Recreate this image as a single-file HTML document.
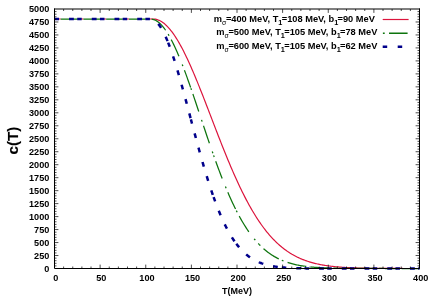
<!DOCTYPE html>
<html><head><meta charset="utf-8"><title>c(T)</title>
<style>
html,body{margin:0;padding:0;background:#fff;}
body{width:436px;height:305px;overflow:hidden;font-family:"Liberation Sans",sans-serif;}
svg{display:block;}
text{font-family:"Liberation Sans",sans-serif;font-weight:bold;fill:#000;}
</style></head><body>
<svg width="436" height="305" viewBox="0 0 436 305">
<defs><filter id="g" filterUnits="userSpaceOnUse" x="0" y="0" width="436" height="305"><feOffset dx="0" dy="0"/></filter></defs>
<rect width="436" height="305" fill="#fff"/>
<g fill="none" stroke-linejoin="round">
<path d="M56.30 19.00H60.70M79.03 19.00H83.43M101.76 19.00H106.16M124.49 19.00H128.89M147.22 19.00L153.05 19.00L153.60 19.01L154.51 19.08L155.42 19.21L156.33 19.40L157.24 19.65L158.15 19.96L159.06 20.33L159.97 20.77L160.88 21.26L161.79 21.81L162.70 22.42L163.61 23.09L164.52 23.82L165.43 24.61L166.34 25.45L167.26 26.36L168.17 27.31L169.08 28.32L169.99 29.39L170.90 30.51L171.81 31.68L172.72 32.91L173.63 34.19L174.54 35.51L175.45 36.89L176.36 38.32L177.27 39.79L178.18 41.31L179.09 42.87L180.00 44.48L180.91 46.13L181.83 47.83L182.74 49.56L183.65 51.34L184.56 53.15L185.47 55.00L186.38 56.89L187.29 58.81L188.20 60.76L189.11 62.75L190.02 64.77L190.93 66.82L191.84 68.90L192.75 71.00L193.66 73.13L194.57 75.29L195.48 77.46L196.40 79.66L197.31 81.88L198.22 84.12L199.13 86.38L200.04 88.66L200.95 90.94L201.86 93.25L202.77 95.56L203.68 97.89L204.59 100.23L205.50 102.57L206.41 104.93L207.32 107.29L208.23 109.65L209.14 112.02L210.05 114.39L210.97 116.77L211.88 119.14L212.79 121.51L213.70 123.88L214.61 126.25L215.52 128.61L216.43 130.97L217.34 133.32L218.25 135.66L219.16 137.99L220.07 140.32L220.98 142.63L221.89 144.94L222.80 147.23L223.71 149.51L224.63 151.77L225.54 154.02L226.45 156.25L227.36 158.47L228.27 160.67L229.18 162.85L230.09 165.01L231.00 167.15L231.91 169.28L232.82 171.38L233.73 173.46L234.64 175.52L235.55 177.56L236.46 179.57L237.37 181.56L238.28 183.53L239.20 185.47L240.11 187.39L241.02 189.29L241.93 191.16L242.84 193.00L243.75 194.82L244.66 196.61L245.57 198.37L246.48 200.11L247.39 201.82L248.30 203.51L249.21 205.17L250.12 206.80L251.03 208.40L251.94 209.98L252.85 211.53L253.77 213.05L254.68 214.54L255.59 216.01L256.50 217.45L257.41 218.86L258.32 220.25L259.23 221.61L260.14 222.94L261.05 224.24L261.96 225.52L262.87 226.77L263.78 227.99L264.69 229.19L265.60 230.36L266.51 231.51L267.42 232.63L268.34 233.73L269.25 234.80L270.16 235.84L271.07 236.86L271.98 237.86L272.89 238.83L273.80 239.78L274.71 240.70L275.62 241.60L276.53 242.48L277.44 243.34L278.35 244.17L279.26 244.99L280.17 245.78L281.08 246.55L281.99 247.30L282.91 248.02L283.82 248.73L284.73 249.42L285.64 250.09L286.55 250.74L287.46 251.37L288.37 251.98L289.28 252.58L290.19 253.15L291.10 253.71L292.01 254.26L292.92 254.78L293.83 255.29L294.74 255.79L295.65 256.27L296.56 256.73L297.48 257.18L298.39 257.61L299.30 258.03L300.21 258.44L301.12 258.83L302.03 259.21L302.94 259.58L303.85 259.93L304.76 260.28L305.67 260.61L306.58 260.93L307.49 261.24L308.40 261.53L309.31 261.82L310.22 262.10L311.13 262.36L312.05 262.62L312.96 262.87L313.87 263.11L314.78 263.34L315.69 263.56L316.60 263.77L317.51 263.98L318.42 264.17L319.33 264.36L320.24 264.55L321.15 264.72L322.06 264.89L322.97 265.05L323.88 265.21L324.79 265.35L325.71 265.50L326.62 265.63L327.53 265.77L328.44 265.89L329.35 266.01L330.26 266.13L331.17 266.24L332.08 266.35L332.99 266.45L333.90 266.55L334.81 266.64L335.72 266.73L336.63 266.81L337.54 266.90L338.45 266.97L339.36 267.05L340.28 267.12L341.19 267.19L342.10 267.25L343.01 267.32L343.92 267.37L344.83 267.43L345.74 267.49L346.65 267.54L347.56 267.59L348.47 267.63L349.38 267.68L350.29 267.72L351.20 267.76L352.11 267.80L353.02 267.84L353.93 267.87L354.85 267.90L355.76 267.94L356.67 267.97L357.58 267.99L358.49 268.02L359.40 268.05L360.31 268.07L361.22 268.10L362.13 268.12L363.04 268.14L363.95 268.16L364.86 268.18L365.77 268.20L366.68 268.21L367.59 268.23L368.50 268.24L369.42 268.26L370.33 268.27L371.24 268.29L372.15 268.30L373.06 268.31L373.97 268.32L374.88 268.33L375.79 268.34L376.70 268.35L377.61 268.36L378.52 268.37L379.43 268.37L380.34 268.38L381.25 268.39L382.16 268.40L383.07 268.40L383.99 268.41L384.90 268.41L385.81 268.42L386.72 268.42L387.63 268.43L388.54 268.43L389.45 268.44L390.36 268.44L391.27 268.44L392.18 268.45L393.09 268.45L394.00 268.45L394.91 268.46L395.82 268.46L396.73 268.46L397.64 268.46L398.56 268.47L399.47 268.47L400.38 268.47L401.29 268.47L402.20 268.47L403.11 268.48L404.02 268.48L404.93 268.48L405.84 268.48L406.75 268.48L407.66 268.48L408.57 268.48L409.48 268.49L410.39 268.49L411.30 268.49L412.21 268.49L413.13 268.49L414.04 268.49L414.95 268.49L415.86 268.49L416.77 268.49L417.68 268.49L418.59 268.49L419.50 268.49" stroke="#dc143c" stroke-width="1.2"/>
<g stroke="#0d740d" stroke-width="1.25" stroke-dasharray="1.8 4.4 18.4 8.8">
<path d="M54.50 19.00L77.23 19.00"/>
<path d="M77.23 19.00L99.96 19.00"/>
<path d="M99.96 19.00L122.69 19.00"/>
<path d="M122.69 19.00L145.42 19.00"/>
<path d="M145.42 19.00L150.31 19.00L150.88 19.02L151.79 19.11L152.70 19.28L153.60 19.53L154.51 19.87L155.42 20.28L156.33 20.78L157.24 21.35L158.15 22.01L159.06 22.74L159.97 23.55L160.88 24.44L161.79 25.40L162.70 26.44L163.61 27.55L164.52 28.74L165.42 30.00L166.33 31.33L167.24 32.73L168.15 34.19"/>
<path d="M168.15 34.19L169.06 35.73L169.97 37.33L170.88 38.99L171.79 40.71L172.70 42.50L173.61 44.35L174.52 46.25L175.43 48.21L176.33 50.22L177.24 52.28L178.15 54.40L179.06 56.56L179.97 58.77L180.88 61.03L181.79 63.32L182.70 65.66L183.61 68.04L184.52 70.45L185.43 72.90L186.34 75.38L187.25 77.90L188.15 80.44L189.06 83.01L189.97 85.60L190.88 88.21"/>
<path d="M190.88 88.21L191.79 90.85L192.70 93.50L193.61 96.17L194.52 98.86L195.43 101.56L196.34 104.26L197.25 106.98L198.16 109.71L199.07 112.44L199.97 115.17L200.88 117.90L201.79 120.63L202.70 123.37L203.61 126.09L204.52 128.81L205.43 131.53L206.34 134.23L207.25 136.93L208.16 139.61L209.07 142.28L209.98 144.93L210.88 147.57L211.79 150.19L212.70 152.79L213.61 155.37"/>
<path d="M213.61 155.37L214.52 157.93L215.43 160.47L216.34 162.98L217.25 165.47L218.16 167.93L219.07 170.37L219.98 172.78L220.89 175.16L221.80 177.51L222.70 179.83L223.61 182.12L224.52 184.37L225.43 186.60L226.34 188.79L227.25 190.95L228.16 193.07L229.07 195.16L229.98 197.22L230.89 199.24L231.80 201.23L232.71 203.18L233.62 205.09L234.52 206.97L235.43 208.81L236.34 210.62"/>
<path d="M236.34 210.62L237.25 212.38L238.16 214.12L239.07 215.81L239.98 217.47L240.89 219.10L241.80 220.69L242.71 222.24L243.62 223.76L244.53 225.24L245.44 226.68L246.34 228.09L247.25 229.47L248.16 230.81L249.07 232.12L249.98 233.39L250.89 234.63L251.80 235.83L252.71 237.01L253.62 238.15L254.53 239.26L255.44 240.34L256.35 241.38L257.25 242.40L258.16 243.39L259.07 244.35"/>
<path d="M259.07 244.35L259.98 245.27L260.89 246.18L261.80 247.05L262.71 247.89L263.62 248.71L264.53 249.50L265.44 250.27L266.35 251.01L267.26 251.73L268.17 252.42L269.07 253.09L269.98 253.73L270.89 254.36L271.80 254.96L272.71 255.54L273.62 256.10L274.53 256.64L275.44 257.15L276.35 257.65L277.26 258.14L278.17 258.60L279.08 259.04L279.99 259.47L280.89 259.89L281.80 260.28"/>
<path d="M281.80 260.28L282.71 260.66L283.62 261.03L284.53 261.38L285.44 261.71L286.35 262.04L287.26 262.34L288.17 262.64L289.08 262.92L289.99 263.20L290.90 263.46L291.81 263.71L292.71 263.94L293.62 264.17L294.53 264.39L295.44 264.60L296.35 264.80L297.26 264.99L298.17 265.17L299.08 265.34L299.99 265.50L300.90 265.66L301.81 265.81L302.72 265.95L303.62 266.09L304.53 266.22"/>
<path d="M304.53 266.22L305.44 266.34L306.35 266.46L307.26 266.57L308.17 266.68L309.08 266.78L309.99 266.87L310.90 266.96L311.81 267.05L312.72 267.13L313.63 267.21L314.54 267.28L315.44 267.35L316.35 267.42L317.26 267.48L318.17 267.54L319.08 267.60L319.99 267.65L320.90 267.70L321.81 267.75L322.72 267.79L323.63 267.84L324.54 267.88L325.45 267.91L326.36 267.95L327.26 267.98"/>
<path d="M327.26 267.98L328.17 268.02L329.08 268.05L329.99 268.07L330.90 268.10L331.81 268.13L332.72 268.15L333.63 268.17L334.54 268.19L335.45 268.21L336.36 268.23L337.27 268.25L338.18 268.26L339.08 268.28L339.99 268.29L340.90 268.31L341.81 268.32L342.72 268.33L343.63 268.34L344.54 268.35L345.45 268.36L346.36 268.37L347.27 268.38L348.18 268.39L349.09 268.40L349.99 268.40"/>
<path d="M349.99 268.40L350.90 268.41L351.81 268.42L352.72 268.42L353.63 268.43L354.54 268.43L355.45 268.44L356.36 268.44L357.27 268.45L358.18 268.45L359.09 268.45L360.00 268.46L360.91 268.46L361.81 268.46L362.72 268.47L363.63 268.47L364.54 268.47L365.45 268.47L366.36 268.48L367.27 268.48L368.18 268.48L369.09 268.48L370.00 268.48L370.91 268.48L371.82 268.48L372.73 268.49"/>
<path d="M372.73 268.49L373.63 268.49L374.54 268.49L375.45 268.49L376.36 268.49L377.27 268.49L378.18 268.49L379.09 268.49L380.00 268.49L380.91 268.49L381.82 268.49L382.73 268.49L383.64 268.49L384.55 268.50L385.45 268.50L386.36 268.50L387.27 268.50L388.18 268.50L389.09 268.50L390.00 268.50L390.91 268.50L391.82 268.50L392.73 268.50L393.64 268.50L394.55 268.50L395.46 268.50"/>
<path d="M395.46 268.50L396.36 268.50L397.27 268.50L398.18 268.50L399.09 268.50L400.00 268.50L400.91 268.50L401.82 268.50L402.73 268.50L403.64 268.50L404.55 268.50L405.46 268.50L406.37 268.50L407.28 268.50L408.18 268.50L409.09 268.50L410.00 268.50L410.91 268.50L411.82 268.50L412.73 268.50L413.64 268.50L414.55 268.50L415.46 268.50L416.37 268.50L417.28 268.50L418.19 268.50"/>
<path d="M418.19 268.50L418.84 268.50L419.50 268.50"/>
</g>
<g stroke="#00008b" stroke-width="2.5" stroke-dasharray="4.8 10.05" stroke-dashoffset="0.3">
<path d="M54.50 19.00L77.23 19.00"/>
<path d="M77.23 19.00L99.96 19.00"/>
<path d="M99.96 19.00L122.69 19.00"/>
<path d="M122.69 19.00L145.42 19.00"/>
<path d="M145.42 19.00L150.31 19.00L150.88 19.03L151.79 19.17L152.70 19.44L153.60 19.84L154.51 20.37L155.42 21.03L156.33 21.81L157.24 22.72L158.15 23.74L159.06 24.89L159.97 26.16L160.88 27.55L161.79 29.06L162.70 30.67L163.61 32.40L164.52 34.24L165.42 36.18L166.33 38.23L167.24 40.37L168.15 42.61"/>
<path d="M168.15 42.61L169.06 44.95L169.97 47.38L170.88 49.89L171.79 52.48L172.70 55.16L173.61 57.91L174.52 60.73L175.43 63.62L176.33 66.58L177.24 69.59L178.15 72.66L179.06 75.78L179.97 78.96L180.88 82.17L181.79 85.43L182.70 88.72L183.61 92.04L184.52 95.39L185.43 98.77L186.34 102.16L187.25 105.58L188.15 109.00L189.06 112.43L189.97 115.87L190.88 119.31"/>
<path d="M190.88 119.31L191.79 122.75L192.70 126.18L193.61 129.60L194.52 133.01L195.43 136.40L196.34 139.78L197.25 143.14L198.16 146.47L199.07 149.77L199.97 153.04L200.88 156.28L201.79 159.49L202.70 162.66L203.61 165.79L204.52 168.88L205.43 171.92L206.34 174.93L207.25 177.88L208.16 180.79L209.07 183.65L209.98 186.45L210.88 189.21L211.79 191.91L212.70 194.56L213.61 197.15"/>
<path d="M213.61 197.15L214.52 199.69L215.43 202.17L216.34 204.60L217.25 206.97L218.16 209.28L219.07 211.53L219.98 213.73L220.89 215.87L221.80 217.95L222.70 219.97L223.61 221.94L224.52 223.85L225.43 225.71L226.34 227.50L227.25 229.25L228.16 230.94L229.07 232.57L229.98 234.15L230.89 235.68L231.80 237.16L232.71 238.58L233.62 239.96L234.52 241.28L235.43 242.56L236.34 243.79"/>
<path d="M236.34 243.79L237.25 244.98L238.16 246.12L239.07 247.21L239.98 248.26L240.89 249.27L241.80 250.24L242.71 251.17L243.62 252.06L244.53 252.92L245.44 253.73L246.34 254.51L247.25 255.26L248.16 255.97L249.07 256.65L249.98 257.30L250.89 257.92L251.80 258.51L252.71 259.07L253.62 259.61L254.53 260.12L255.44 260.60L256.35 261.06L257.25 261.50L258.16 261.91L259.07 262.30"/>
<path d="M259.07 262.30L259.98 262.68L260.89 263.03L261.80 263.37L262.71 263.68L263.62 263.98L264.53 264.26L265.44 264.53L266.35 264.78L267.26 265.02L268.17 265.25L269.07 265.46L269.98 265.66L270.89 265.84L271.80 266.02L272.71 266.19L273.62 266.34L274.53 266.49L275.44 266.63L276.35 266.76L277.26 266.88L278.17 266.99L279.08 267.10L279.99 267.20L280.89 267.29L281.80 267.38"/>
<path d="M281.80 267.38L282.71 267.46L283.62 267.53L284.53 267.60L285.44 267.67L286.35 267.73L287.26 267.79L288.17 267.84L289.08 267.89L289.99 267.94L290.90 267.98L291.81 268.02L292.71 268.06L293.62 268.09L294.53 268.12L295.44 268.15L296.35 268.18L297.26 268.21L298.17 268.23L299.08 268.25L299.99 268.27L300.90 268.29L301.81 268.31L302.72 268.32L303.62 268.34L304.53 268.35"/>
<path d="M304.53 268.35L305.44 268.36L306.35 268.38L307.26 268.39L308.17 268.40L309.08 268.41L309.99 268.41L310.90 268.42L311.81 268.43L312.72 268.43L313.63 268.44L314.54 268.45L315.44 268.45L316.35 268.45L317.26 268.46L318.17 268.46L319.08 268.47L319.99 268.47L320.90 268.47L321.81 268.47L322.72 268.48L323.63 268.48L324.54 268.48L325.45 268.48L326.36 268.48L327.26 268.49"/>
<path d="M327.26 268.49L328.17 268.49L329.08 268.49L329.99 268.49L330.90 268.49L331.81 268.49L332.72 268.49L333.63 268.49L334.54 268.49L335.45 268.49L336.36 268.49L337.27 268.50L338.18 268.50L339.08 268.50L339.99 268.50L340.90 268.50L341.81 268.50L342.72 268.50L343.63 268.50L344.54 268.50L345.45 268.50L346.36 268.50L347.27 268.50L348.18 268.50L349.09 268.50L349.99 268.50"/>
<path d="M349.99 268.50L350.90 268.50L351.81 268.50L352.72 268.50L353.63 268.50L354.54 268.50L355.45 268.50L356.36 268.50L357.27 268.50L358.18 268.50L359.09 268.50L360.00 268.50L360.91 268.50L361.81 268.50L362.72 268.50L363.63 268.50L364.54 268.50L365.45 268.50L366.36 268.50L367.27 268.50L368.18 268.50L369.09 268.50L370.00 268.50L370.91 268.50L371.82 268.50L372.73 268.50"/>
<path d="M372.73 268.50L373.63 268.50L374.54 268.50L375.45 268.50L376.36 268.50L377.27 268.50L378.18 268.50L379.09 268.50L380.00 268.50L380.91 268.50L381.82 268.50L382.73 268.50L383.64 268.50L384.55 268.50L385.45 268.50L387.27 268.50L389.09 268.50L390.91 268.50L393.64 268.50L395.46 268.50"/>
<path d="M395.46 268.50L401.82 268.50L418.19 268.50"/>
<path d="M418.19 268.50L419.50 268.50"/>
</g>
</g>
<path d="M100.12 268.50V264.60M100.12 9.00V12.90M145.75 268.50V264.60M145.75 9.00V12.90M191.38 268.50V264.60M191.38 9.00V12.90M237.00 268.50V264.60M237.00 9.00V12.90M282.62 268.50V264.60M282.62 9.00V12.90M328.25 268.50V264.60M328.25 9.00V12.90M373.88 268.50V264.60M373.88 9.00V12.90M54.50 255.53H58.40M419.50 255.53H415.60M54.50 242.55H58.40M419.50 242.55H415.60M54.50 229.57H58.40M419.50 229.57H415.60M54.50 216.60H58.40M419.50 216.60H415.60M54.50 203.62H58.40M419.50 203.62H415.60M54.50 190.65H58.40M419.50 190.65H415.60M54.50 177.68H58.40M419.50 177.68H415.60M54.50 164.70H58.40M419.50 164.70H415.60M54.50 151.72H58.40M419.50 151.72H415.60M54.50 138.75H58.40M419.50 138.75H415.60M54.50 125.78H58.40M419.50 125.78H415.60M54.50 112.80H58.40M419.50 112.80H415.60M54.50 99.82H58.40M419.50 99.82H415.60M54.50 86.85H58.40M419.50 86.85H415.60M54.50 73.88H58.40M419.50 73.88H415.60M54.50 60.90H58.40M419.50 60.90H415.60M54.50 47.92H58.40M419.50 47.92H415.60M54.50 34.95H58.40M419.50 34.95H415.60M54.50 21.97H58.40M419.50 21.97H415.60" stroke="#000" stroke-width="0.7" fill="none"/>
<path d="M63.62 268.50V266.50M63.62 9.00V11.00M72.75 268.50V266.50M72.75 9.00V11.00M81.88 268.50V266.50M81.88 9.00V11.00M91.00 268.50V266.50M91.00 9.00V11.00M109.25 268.50V266.50M109.25 9.00V11.00M118.38 268.50V266.50M118.38 9.00V11.00M127.50 268.50V266.50M127.50 9.00V11.00M136.62 268.50V266.50M136.62 9.00V11.00M154.88 268.50V266.50M154.88 9.00V11.00M164.00 268.50V266.50M164.00 9.00V11.00M173.12 268.50V266.50M173.12 9.00V11.00M182.25 268.50V266.50M182.25 9.00V11.00M200.50 268.50V266.50M200.50 9.00V11.00M209.62 268.50V266.50M209.62 9.00V11.00M218.75 268.50V266.50M218.75 9.00V11.00M227.88 268.50V266.50M227.88 9.00V11.00M246.12 268.50V266.50M246.12 9.00V11.00M255.25 268.50V266.50M255.25 9.00V11.00M264.38 268.50V266.50M264.38 9.00V11.00M273.50 268.50V266.50M273.50 9.00V11.00M291.75 268.50V266.50M291.75 9.00V11.00M300.88 268.50V266.50M300.88 9.00V11.00M310.00 268.50V266.50M310.00 9.00V11.00M319.12 268.50V266.50M319.12 9.00V11.00M337.38 268.50V266.50M337.38 9.00V11.00M346.50 268.50V266.50M346.50 9.00V11.00M355.62 268.50V266.50M355.62 9.00V11.00M364.75 268.50V266.50M364.75 9.00V11.00M383.00 268.50V266.50M383.00 9.00V11.00M392.12 268.50V266.50M392.12 9.00V11.00M401.25 268.50V266.50M401.25 9.00V11.00M410.38 268.50V266.50M410.38 9.00V11.00M54.50 265.90H56.50M419.50 265.90H417.50M54.50 263.31H56.50M419.50 263.31H417.50M54.50 260.71H56.50M419.50 260.71H417.50M54.50 258.12H56.50M419.50 258.12H417.50M54.50 252.93H56.50M419.50 252.93H417.50M54.50 250.34H56.50M419.50 250.34H417.50M54.50 247.74H56.50M419.50 247.74H417.50M54.50 245.15H56.50M419.50 245.15H417.50M54.50 239.95H56.50M419.50 239.95H417.50M54.50 237.36H56.50M419.50 237.36H417.50M54.50 234.76H56.50M419.50 234.76H417.50M54.50 232.17H56.50M419.50 232.17H417.50M54.50 226.98H56.50M419.50 226.98H417.50M54.50 224.38H56.50M419.50 224.38H417.50M54.50 221.79H56.50M419.50 221.79H417.50M54.50 219.19H56.50M419.50 219.19H417.50M54.50 214.00H56.50M419.50 214.00H417.50M54.50 211.41H56.50M419.50 211.41H417.50M54.50 208.81H56.50M419.50 208.81H417.50M54.50 206.22H56.50M419.50 206.22H417.50M54.50 201.03H56.50M419.50 201.03H417.50M54.50 198.44H56.50M419.50 198.44H417.50M54.50 195.84H56.50M419.50 195.84H417.50M54.50 193.25H56.50M419.50 193.25H417.50M54.50 188.06H56.50M419.50 188.06H417.50M54.50 185.46H56.50M419.50 185.46H417.50M54.50 182.87H56.50M419.50 182.87H417.50M54.50 180.27H56.50M419.50 180.27H417.50M54.50 175.08H56.50M419.50 175.08H417.50M54.50 172.49H56.50M419.50 172.49H417.50M54.50 169.89H56.50M419.50 169.89H417.50M54.50 167.30H56.50M419.50 167.30H417.50M54.50 162.10H56.50M419.50 162.10H417.50M54.50 159.51H56.50M419.50 159.51H417.50M54.50 156.91H56.50M419.50 156.91H417.50M54.50 154.32H56.50M419.50 154.32H417.50M54.50 149.13H56.50M419.50 149.13H417.50M54.50 146.53H56.50M419.50 146.53H417.50M54.50 143.94H56.50M419.50 143.94H417.50M54.50 141.34H56.50M419.50 141.34H417.50M54.50 136.16H56.50M419.50 136.16H417.50M54.50 133.56H56.50M419.50 133.56H417.50M54.50 130.97H56.50M419.50 130.97H417.50M54.50 128.37H56.50M419.50 128.37H417.50M54.50 123.18H56.50M419.50 123.18H417.50M54.50 120.59H56.50M419.50 120.59H417.50M54.50 117.99H56.50M419.50 117.99H417.50M54.50 115.39H56.50M419.50 115.39H417.50M54.50 110.20H56.50M419.50 110.20H417.50M54.50 107.61H56.50M419.50 107.61H417.50M54.50 105.01H56.50M419.50 105.01H417.50M54.50 102.42H56.50M419.50 102.42H417.50M54.50 97.23H56.50M419.50 97.23H417.50M54.50 94.63H56.50M419.50 94.63H417.50M54.50 92.04H56.50M419.50 92.04H417.50M54.50 89.44H56.50M419.50 89.44H417.50M54.50 84.25H56.50M419.50 84.25H417.50M54.50 81.66H56.50M419.50 81.66H417.50M54.50 79.06H56.50M419.50 79.06H417.50M54.50 76.47H56.50M419.50 76.47H417.50M54.50 71.28H56.50M419.50 71.28H417.50M54.50 68.69H56.50M419.50 68.69H417.50M54.50 66.09H56.50M419.50 66.09H417.50M54.50 63.50H56.50M419.50 63.50H417.50M54.50 58.31H56.50M419.50 58.31H417.50M54.50 55.71H56.50M419.50 55.71H417.50M54.50 53.11H56.50M419.50 53.11H417.50M54.50 50.52H56.50M419.50 50.52H417.50M54.50 45.33H56.50M419.50 45.33H417.50M54.50 42.73H56.50M419.50 42.73H417.50M54.50 40.14H56.50M419.50 40.14H417.50M54.50 37.54H56.50M419.50 37.54H417.50M54.50 32.35H56.50M419.50 32.35H417.50M54.50 29.76H56.50M419.50 29.76H417.50M54.50 27.16H56.50M419.50 27.16H417.50M54.50 24.57H56.50M419.50 24.57H417.50M54.50 19.38H56.50M419.50 19.38H417.50M54.50 16.78H56.50M419.50 16.78H417.50M54.50 14.19H56.50M419.50 14.19H417.50M54.50 11.59H56.50M419.50 11.59H417.50" stroke="#000" stroke-width="0.7" fill="none"/>
<path d="M54.00 9.00H420.00" stroke="#000" stroke-width="1.15" fill="none"/>
<path d="M54.50 9.00V268.50H419.50V9.00" stroke="#000" stroke-width="1" fill="none" stroke-linecap="square"/>
<path d="M382.7 19.5H408.6" stroke="#dc143c" stroke-width="1.2" fill="none"/>
<path d="M382.9 33.3H384.7M389 33.3H407.6" stroke="#0d740d" stroke-width="1.5" fill="none"/>
<path d="M382.7 46.8H387.2M397.7 46.8H402.2" stroke="#00008b" stroke-width="2.5" fill="none"/>
<g filter="url(#g)">
<text x="49.3" y="271.50" font-size="9.15" text-anchor="end">0</text>
<text x="49.3" y="258.52" font-size="9.15" text-anchor="end">250</text>
<text x="49.3" y="245.55" font-size="9.15" text-anchor="end">500</text>
<text x="49.3" y="232.57" font-size="9.15" text-anchor="end">750</text>
<text x="49.3" y="219.60" font-size="9.15" text-anchor="end">1000</text>
<text x="49.3" y="206.62" font-size="9.15" text-anchor="end">1250</text>
<text x="49.3" y="193.65" font-size="9.15" text-anchor="end">1500</text>
<text x="49.3" y="180.68" font-size="9.15" text-anchor="end">1750</text>
<text x="49.3" y="167.70" font-size="9.15" text-anchor="end">2000</text>
<text x="49.3" y="154.72" font-size="9.15" text-anchor="end">2250</text>
<text x="49.3" y="141.75" font-size="9.15" text-anchor="end">2500</text>
<text x="49.3" y="128.78" font-size="9.15" text-anchor="end">2750</text>
<text x="49.3" y="115.80" font-size="9.15" text-anchor="end">3000</text>
<text x="49.3" y="102.82" font-size="9.15" text-anchor="end">3250</text>
<text x="49.3" y="89.85" font-size="9.15" text-anchor="end">3500</text>
<text x="49.3" y="76.88" font-size="9.15" text-anchor="end">3750</text>
<text x="49.3" y="63.90" font-size="9.15" text-anchor="end">4000</text>
<text x="49.3" y="50.92" font-size="9.15" text-anchor="end">4250</text>
<text x="49.3" y="37.95" font-size="9.15" text-anchor="end">4500</text>
<text x="49.3" y="24.97" font-size="9.15" text-anchor="end">4750</text>
<text x="49.3" y="12.00" font-size="9.15" text-anchor="end">5000</text>
<text x="55.70" y="280.8" font-size="9.15" text-anchor="middle">0</text>
<text x="101.33" y="280.8" font-size="9.15" text-anchor="middle">50</text>
<text x="146.95" y="280.8" font-size="9.15" text-anchor="middle">100</text>
<text x="192.57" y="280.8" font-size="9.15" text-anchor="middle">150</text>
<text x="238.20" y="280.8" font-size="9.15" text-anchor="middle">200</text>
<text x="283.82" y="280.8" font-size="9.15" text-anchor="middle">250</text>
<text x="329.45" y="280.8" font-size="9.15" text-anchor="middle">300</text>
<text x="375.07" y="280.8" font-size="9.15" text-anchor="middle">350</text>
<text x="420.70" y="280.8" font-size="9.15" text-anchor="middle">400</text>
<text x="237" y="294.2" font-size="9.00" text-anchor="middle">T(MeV)</text>
<text transform="translate(17.7 140.5) rotate(-90)" font-size="15.20" text-anchor="middle" stroke="#000" stroke-width="0.15">c(T)</text>
<text x="374.90" y="22.00" font-size="9.27" text-anchor="end">m<tspan font-size="6.9" dy="2.9" font-weight="normal">σ</tspan><tspan dy="-2.9" dx="-0.4">=400 MeV, T</tspan><tspan font-size="7.3" dy="2.9">1</tspan><tspan dy="-2.9" dx="-0.7">=108 MeV, b</tspan><tspan font-size="7.3" dy="2.9">1</tspan><tspan dy="-2.9" dx="-0.7">=90 MeV</tspan></text>
<text x="377.40" y="35.40" font-size="9.27" text-anchor="end">m<tspan font-size="6.9" dy="2.9" font-weight="normal">σ</tspan><tspan dy="-2.9" dx="-0.4">=500 MeV, T</tspan><tspan font-size="7.3" dy="2.9">1</tspan><tspan dy="-2.9" dx="-0.7">=105 MeV, b</tspan><tspan font-size="7.3" dy="2.9">1</tspan><tspan dy="-2.9" dx="-0.7">=78 MeV</tspan></text>
<text x="377.40" y="48.60" font-size="9.27" text-anchor="end">m<tspan font-size="6.9" dy="2.9" font-weight="normal">σ</tspan><tspan dy="-2.9" dx="-0.4">=600 MeV, T</tspan><tspan font-size="7.3" dy="2.9">1</tspan><tspan dy="-2.9" dx="-0.7">=105 MeV, b</tspan><tspan font-size="7.3" dy="2.9">1</tspan><tspan dy="-2.9" dx="-0.7">=62 MeV</tspan></text>
</g>
</svg>
</body></html>
